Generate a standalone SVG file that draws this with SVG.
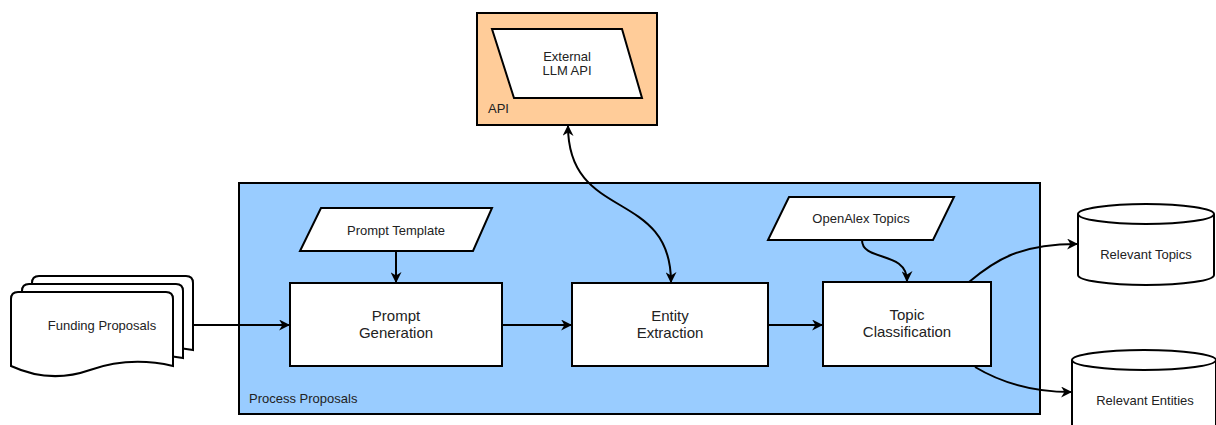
<svg xmlns="http://www.w3.org/2000/svg" width="1216" height="425" viewBox="0 0 1216 425">
<style>
.s{stroke:#000;stroke-width:2;fill:#fff}
.t{font-family:"Liberation Sans",Arial,sans-serif;font-size:13px;fill:#222;text-anchor:middle}
.b{font-size:15px}
.l{text-anchor:start}
.c{fill:none;stroke:#000;stroke-width:2}
</style>
<defs>
<marker id="a" viewBox="0 0 10 10" refX="9" refY="5" markerWidth="11" markerHeight="11" orient="auto-start-reverse" markerUnits="userSpaceOnUse">
<path d="M0,0 L10,5 L0,10 L3,5 Z" fill="#000"/>
</marker>
</defs>
<g id="api-group">
<rect x="477" y="13" width="180" height="112" fill="#FFCC99" stroke="#000" stroke-width="2"/>
<text class="t l" x="488" y="113">API</text>
</g>
<g id="external-llm-api">
<path class="s" d="M492,29 L622,29 L642,98 L514,98 Z"/>
<text class="t" x="567" y="61">External</text>
<text class="t" x="567" y="75">LLM API</text>
</g>
<g id="process-proposals">
<rect x="239" y="183" width="801" height="231" fill="#99CCFF" stroke="#000" stroke-width="2"/>
<text class="t l" x="249" y="403">Process Proposals</text>
</g>
<g id="funding-proposals">
<path class="s" d="M32,283 Q32,276 39,276 L186,276 Q193,276 193,283 L193,350 Q150,342 110,356 Q70,370 32,356 Z"/>
<path class="s" d="M22,291 Q22,284 29,284 L176,284 Q183,284 183,291 L183,358 Q140,350 100,364 Q60,378 22,364 Z"/>
<path class="s" d="M11,299 Q11,292 18,292 L166,292 Q173,292 173,299 L173,366 Q130,356 90,370 Q50,384 11,366 Z"/>
<text class="t" x="102" y="330">Funding Proposals</text>
</g>
<g id="prompt-template">
<path class="s" d="M321,208 L492,208 L473,251 L300,251 Z"/>
<text class="t" x="396" y="235">Prompt Template</text>
</g>
<g id="prompt-generation">
<rect class="s" x="290" y="283" width="212" height="83"/>
<text class="t b" x="396" y="321">Prompt</text>
<text class="t b" x="396" y="338">Generation</text>
</g>
<g id="entity-extraction">
<rect class="s" x="572" y="283" width="196" height="83"/>
<text class="t b" x="670" y="321">Entity</text>
<text class="t b" x="670" y="338">Extraction</text>
</g>
<g id="openalex-topics">
<path class="s" d="M789,197 L954,197 L933,240 L768,240 Z"/>
<text class="t" x="861" y="223">OpenAlex Topics</text>
</g>
<g id="topic-classification">
<rect class="s" x="823" y="282" width="168" height="84"/>
<text class="t b" x="907" y="320">Topic</text>
<text class="t b" x="907" y="337">Classification</text>
</g>
<g id="relevant-topics">
<path class="s" d="M1078,214 L1078,275 A68,10 0 0 0 1214,275 L1214,214"/>
<ellipse class="s" cx="1146" cy="214" rx="68" ry="10"/>
<text class="t" x="1146" y="259">Relevant Topics</text>
</g>
<g id="relevant-entities">
<path class="s" d="M1072,360 L1072,440 L1216,440 L1216,360"/>
<ellipse class="s" cx="1144" cy="360" rx="72" ry="10"/>
<text class="t" x="1145" y="405">Relevant Entities</text>
</g>
<g id="connectors">
<path class="c" d="M193,325 L289,325" marker-end="url(#a)"/>
<path class="c" d="M502,325 L571,325" marker-end="url(#a)"/>
<path class="c" d="M768,325 L822,325" marker-end="url(#a)"/>
<path class="c" d="M396,251 L396,282" marker-end="url(#a)"/>
<path class="c" d="M862,240 C862,262 907,250 907,281" marker-end="url(#a)"/>
<path class="c" d="M568,126 C568,222 671,188 671,282" marker-start="url(#a)" marker-end="url(#a)"/>
<path class="c" d="M969,282 C995,260 1020,244 1077,244" marker-end="url(#a)"/>
<path class="c" d="M975,367 C1000,382 1030,392 1071,392" marker-end="url(#a)"/>
</g>
</svg>
